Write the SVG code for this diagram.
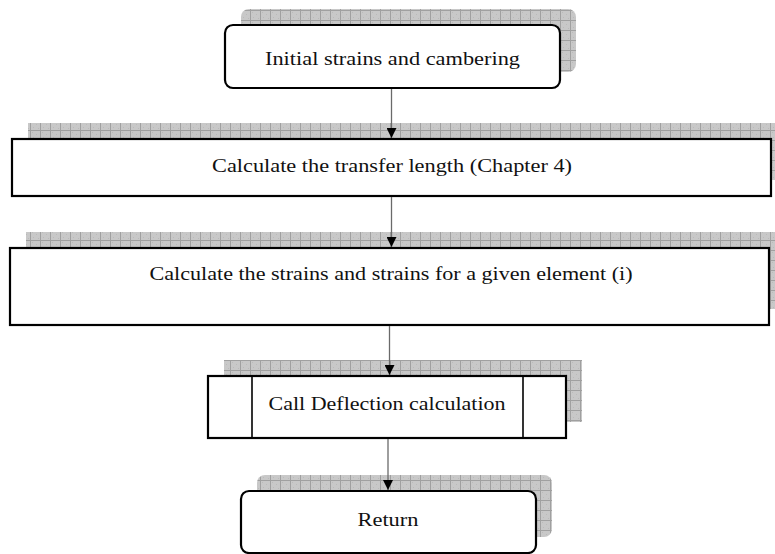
<svg xmlns="http://www.w3.org/2000/svg" width="775" height="554" viewBox="0 0 775 554">
  <defs>
    <!-- hatched grey grid used for the drop shadows -->
    <pattern id="grid" x="0" y="0" width="10" height="10" patternUnits="userSpaceOnUse">
      <rect width="10" height="10" fill="#c8c8c8"/>
      <rect x="2" y="2" width="1" height="1" fill="#bababa"/>
      <rect x="6" y="4" width="1" height="1" fill="#bababa"/>
      <rect x="3" y="7" width="1" height="1" fill="#bababa"/>
      <rect x="8" y="8" width="1" height="1" fill="#bababa"/>
      <path d="M0 0.5H10M0.5 0V10" stroke="#a0a0a0" stroke-width="1"/>
    </pattern>
    <marker id="arrow" viewBox="0 0 10 10" refX="10" refY="5" markerWidth="10" markerHeight="10" markerUnits="userSpaceOnUse" orient="auto">
      <path d="M0 0L10 5L0 10Z" fill="#000"/>
    </marker>
  </defs>
  <style>
    .shadow { fill: url(#grid); }
    .box { fill: #fff; stroke: #000; stroke-width: 2.2; }
    .thin { stroke: #000; stroke-width: 1.6; fill: none; }
    .label { font-family: "Liberation Serif", "DejaVu Serif", serif; font-size: 19.5px; fill: #111; text-anchor: middle; }
    .conn { stroke: #6a6a6a; stroke-width: 1.3; fill: none; marker-end: url(#arrow); }
  </style>

  <g id="start">
    <rect class="shadow" x="241" y="9" width="335" height="63" rx="8"/>
    <rect class="box" x="225" y="25" width="335" height="63" rx="8"/>
    <text class="label" x="392.5" y="65" textLength="255" lengthAdjust="spacingAndGlyphs">Initial strains and cambering</text>
  </g>

  <g id="transfer">
    <rect class="shadow" x="28" y="123" width="760" height="57"/>
    <rect class="box" x="12" y="139" width="759" height="57"/>
    <text class="label" x="392" y="172" textLength="360" lengthAdjust="spacingAndGlyphs">Calculate the transfer length (Chapter 4)</text>
  </g>

  <g id="strains">
    <rect class="shadow" x="26" y="232" width="760" height="77"/>
    <rect class="box" x="10" y="248" width="759" height="77"/>
    <text class="label" x="391" y="280" textLength="483" lengthAdjust="spacingAndGlyphs">Calculate the strains and strains for a given element (i)</text>
  </g>

  <g id="deflection">
    <rect class="shadow" x="224" y="360" width="358" height="62"/>
    <rect class="box" x="208" y="376" width="358" height="62"/>
    <line class="thin" x1="252" y1="376" x2="252" y2="438"/>
    <line class="thin" x1="523" y1="376" x2="523" y2="438"/>
    <text class="label" x="387" y="410" textLength="237" lengthAdjust="spacingAndGlyphs">Call Deflection calculation</text>
  </g>

  <g id="return">
    <rect class="shadow" x="257" y="475" width="295" height="62" rx="8"/>
    <rect class="box" x="241" y="491" width="295" height="62" rx="8"/>
    <text class="label" x="388" y="526" textLength="61" lengthAdjust="spacingAndGlyphs">Return</text>
  </g>

  <g id="connectors">
    <line class="conn" x1="391.5" y1="89" x2="391.5" y2="138"/>
    <line class="conn" x1="391.5" y1="197" x2="391.5" y2="247"/>
    <line class="conn" x1="389.5" y1="326" x2="389.5" y2="375"/>
    <line class="conn" x1="388" y1="439" x2="388" y2="490"/>
  </g>
</svg>
